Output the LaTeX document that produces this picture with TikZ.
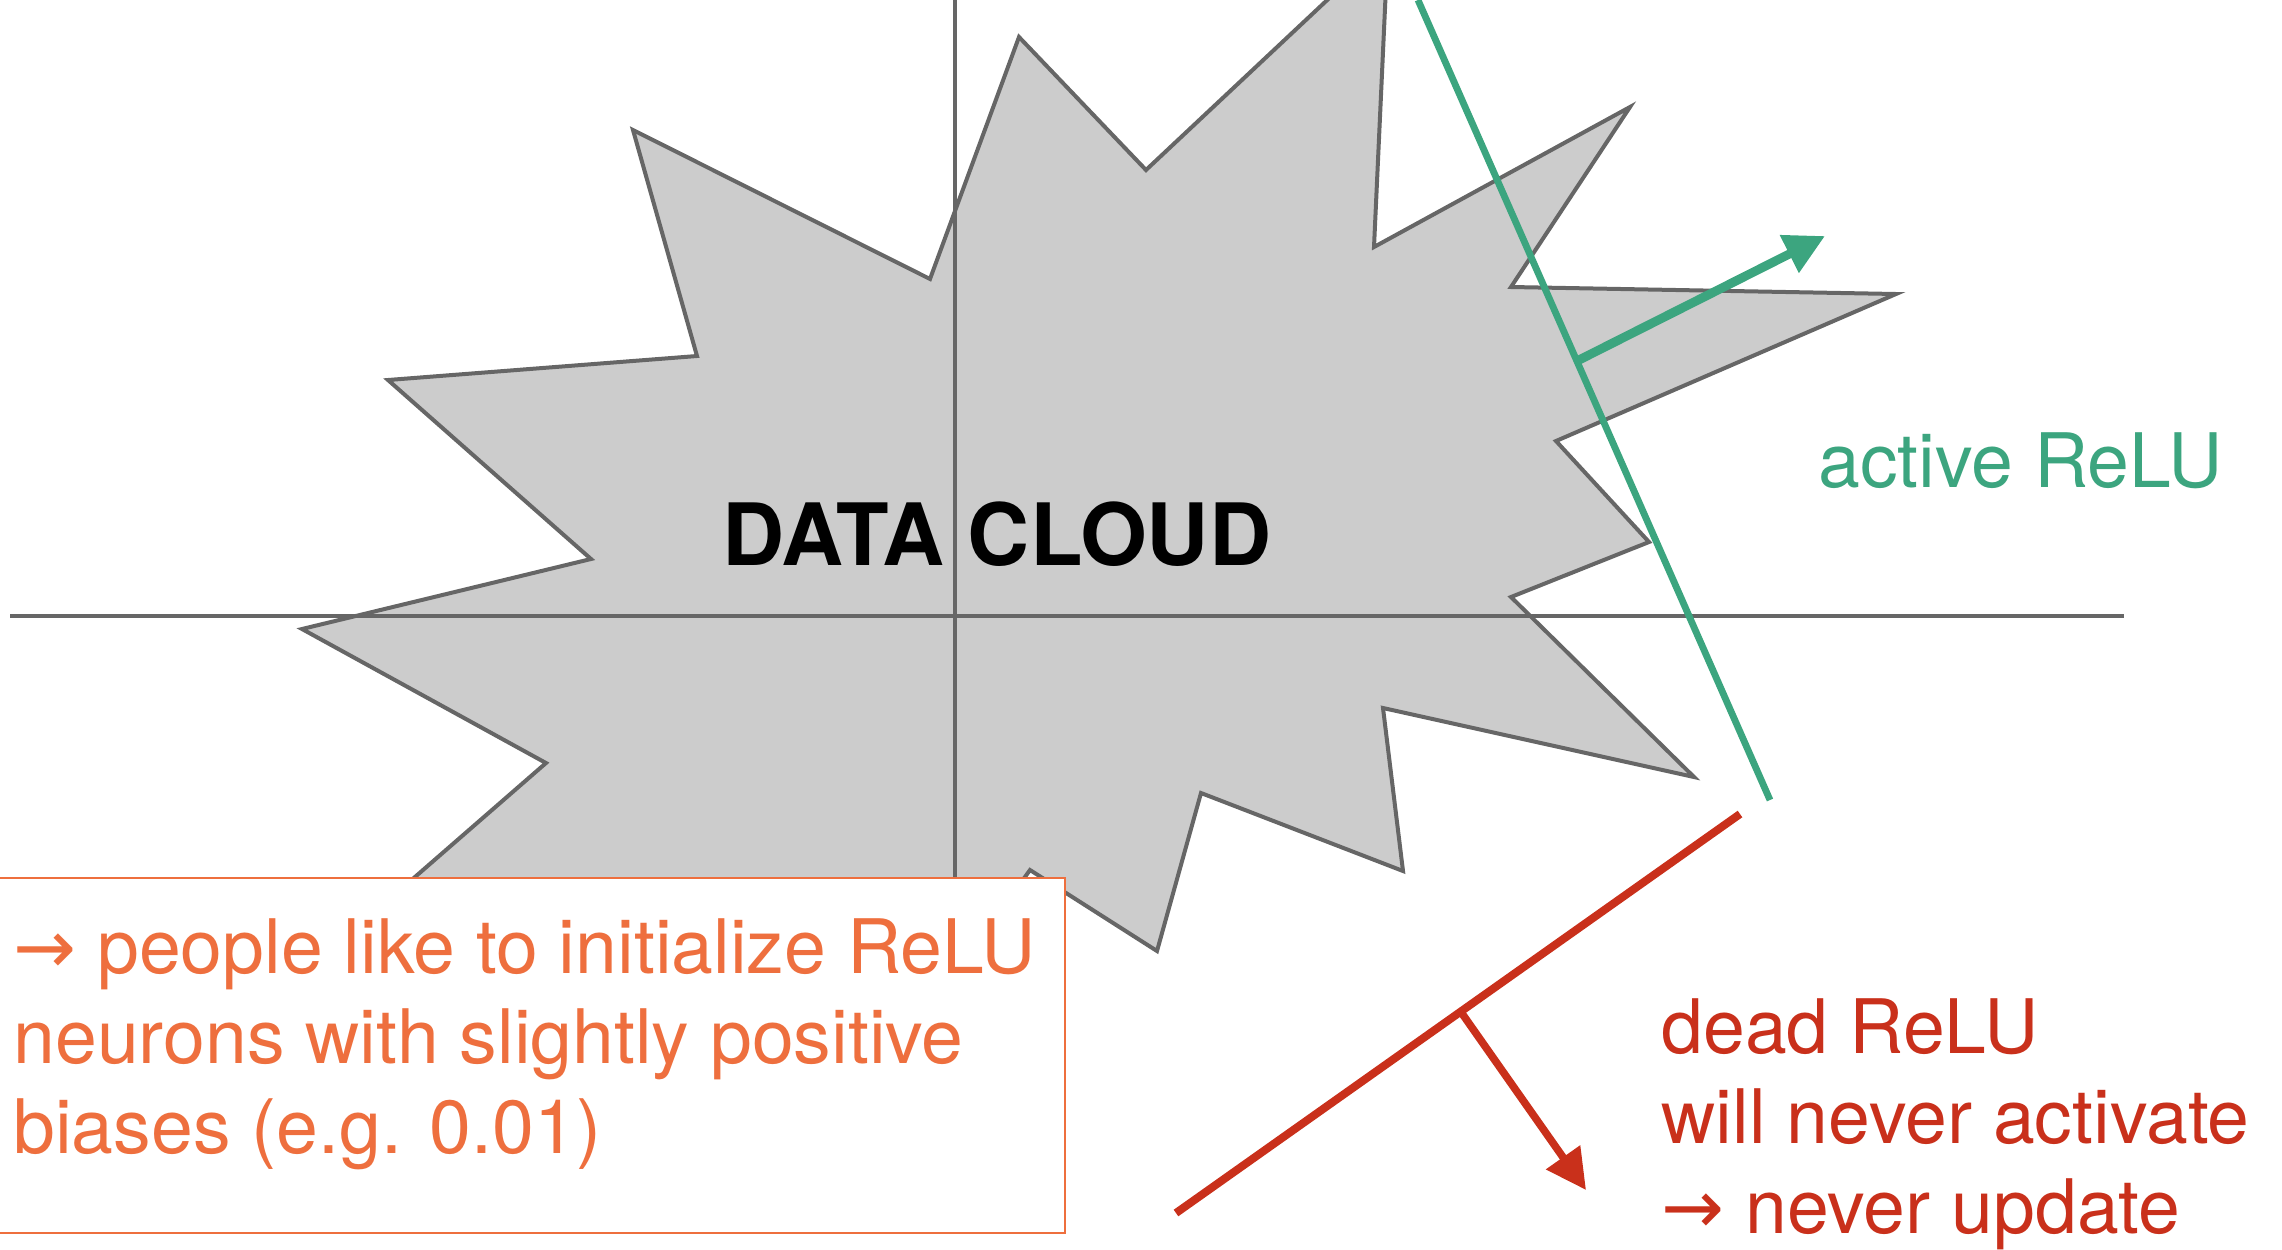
\documentclass[tikz,border=0pt]{standalone}
\usepackage{fontspec}
\setmainfont{TeX Gyre Heros}
\newfontfamily\arrowfont{DejaVu Sans}
\usetikzlibrary{arrows.meta}
\definecolor{cloudfill}{HTML}{CCCCCC}
\definecolor{cloudline}{HTML}{666666}
\definecolor{relugreen}{HTML}{3CA57F}
\definecolor{reludead}{HTML}{C9301B}
\definecolor{noteorange}{HTML}{EE6F3E}
\newcommand{\rarr}{{\arrowfont →}}
\tikzset{
  cloud/.style={fill=cloudfill, draw=cloudline, line width=2pt, line join=miter},
  axis/.style={draw=cloudline, line width=1.8pt},
  labeltext/.style={inner sep=0pt, anchor=base west, align=left, font=\fontsize{37.6}{45}\selectfont},
  greenline/.style={draw=relugreen, line width=3.4pt},
  redline/.style={draw=reludead, line width=4pt},
  normalarrow/.style={-{Triangle[length=20pt,width=20pt]}},
  notebox/.style={draw=noteorange, fill=white, line width=1.2pt}
}
\begin{document}
\begin{tikzpicture}[x=0.5pt,y=-0.5pt]
\useasboundingbox (0,0) rectangle (2282,1249);
% data cloud
\draw[cloud] (633,130) -- (930,279) -- (1019,37) -- (1146,170) -- (1388,-57)
  -- (1374,247) -- (1630,107) -- (1511,287) -- (1896,294) -- (1556,441)
  -- (1649,542) -- (1511,597) -- (1694,777) -- (1383,708) -- (1403,871)
  -- (1201,793) -- (1157,951) -- (1030,870) -- (900,1050) -- (300,977)
  -- (546,763) -- (302,629) -- (591,559) -- (388,380) -- (697,356) -- cycle;
% axes
\coordinate (hx0) at (10,616);
\coordinate (hx1) at (2124,616);
\coordinate (vy0) at (955,0);
\coordinate (vy1) at (955,900);
\draw[axis] (hx0) -- (hx1);
\draw[axis] (vy0) -- (vy1);
\node[inner sep=0pt, anchor=base west, font=\bfseries\fontsize{43}{50}\selectfont] (dc) at (722,565) {DATA CLOUD};
% active ReLU
\coordinate (g0) at (1418,0);
\coordinate (g1) at (1770,800);
\coordinate (gs) at (1577,361);
\coordinate (gt) at (1825,236);
\draw[greenline] (g0) -- (g1);
\draw[draw=relugreen, line width=4.5pt, normalarrow, fill=relugreen] (gs) -- (gt);
\node[labeltext, text=relugreen] (act) at (1818,487) {active ReLU};
% dead ReLU
\coordinate (r0) at (1176,1213);
\coordinate (r1) at (1740,814);
\coordinate (rs) at (1461,1012);
\coordinate (rt) at (1586,1190);
\draw[redline] (r0) -- (r1);
\draw[draw=reludead, line width=3.8pt, normalarrow, fill=reludead] (rs) -- (rt);
\node[labeltext, text=reludead] (dead) at (1661,1233) {dead ReLU\\will never activate\\\rarr\ never update};
% note box
\draw[notebox] (-5,878) rectangle (1065,1233);
\node[labeltext, text=noteorange] (note) at (13,1153) {\rarr\ people like to initialize ReLU\\neurons with slightly positive\\biases (e.g. 0.01)};
\end{tikzpicture}
\end{document}
